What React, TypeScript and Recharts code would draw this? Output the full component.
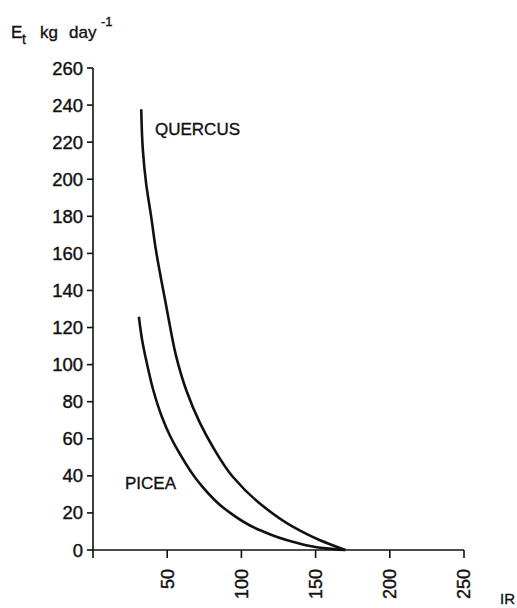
import React from "react"
import { LineChart, Line, XAxis, YAxis } from "recharts"

// transpiration vs. irradiance for the two species
const quercusIR = [32.5, 33.6, 35.8, 39.2, 42.4, 45.6, 48.6, 51.5, 56.1, 62.8, 71.8, 80.7, 94.2, 112.2, 134.6, 152.6, 170]
const quercusEt = [237.7, 215.7, 197.8, 179.8, 161.8, 147.4, 134.8, 122.3, 104.3, 86.3, 69, 55.7, 39.5, 25.2, 12.6, 5.4, 0]

const piceaIR = [30.9, 33.1, 36.3, 40.6, 46.4, 52.2, 58.3, 71.8, 89.8, 112.2, 134.6, 157, 170]
const piceaEt = [125.8, 113.3, 100.7, 86.3, 71.9, 61.1, 52.2, 36, 21.6, 10.8, 4.5, 0.9, 0]

const xTicks = [0, 50, 100, 150, 200, 250]
const yTicks = [0, 20, 40, 60, 80, 100, 120, 140, 160, 180, 200, 220, 240, 260]

const quercus = quercusIR.map((ir, i) => ({ ir, et: quercusEt[i] }))
const picea = piceaIR.map((ir, i) => ({ ir, et: piceaEt[i] }))

const FONT = "'Liberation Sans', Arial, sans-serif"
const INK = "#111"

function RotatedTick(props: any) {
  const { x, y, payload } = props
  if (payload.value === 0) return null
  return (
    <g transform={`translate(${x},${y})`}>
      <text
        transform="rotate(-90)"
        x={-9}
        dy="0.36em"
        textAnchor="end"
        fill={INK}
        stroke={INK}
        strokeWidth={0.4}
        fontSize={18}
        fontFamily={FONT}
      >
        {payload.value}
      </text>
    </g>
  )
}

const overlayText: React.CSSProperties = {
  position: "absolute",
  fontFamily: FONT,
  fontSize: 17,
  color: INK,
  whiteSpace: "pre",
  lineHeight: 1,
  WebkitTextStroke: "0.35px #111",
}

export default function App() {
  return (
    <div style={{ position: "absolute", left: 0, top: 0, width: 517, height: 608, background: "#fff", overflow: "hidden" }}>
      <LineChart
        width={517}
        height={608}
        margin={{ top: 68, right: 53, bottom: 0, left: 0 }}
      >
        <XAxis
          type="number"
          dataKey="ir"
          domain={[0, 250]}
          ticks={xTicks}
          tickSize={8}
          tick={<RotatedTick />}
          stroke={INK}
          strokeWidth={1.6}
          height={58}
          allowDataOverflow
        />
        <YAxis
          type="number"
          dataKey="et"
          domain={[0, 260]}
          ticks={yTicks}
          tickSize={6}
          tickMargin={4}
          width={93}
          stroke={INK}
          strokeWidth={1.6}
          tick={{ fill: INK, stroke: INK, strokeWidth: 0.4, fontSize: 18.5, fontFamily: FONT }}
        />
        <Line
          data={quercus}
          dataKey="et"
          type="monotoneY"
          stroke={INK}
          strokeWidth={2.6}
          dot={false}
          isAnimationActive={false}
        />
        <Line
          data={picea}
          dataKey="et"
          type="monotoneY"
          stroke={INK}
          strokeWidth={2.6}
          dot={false}
          isAnimationActive={false}
        />
      </LineChart>

      <div style={{ ...overlayText, left: 11, top: 24 }}>E</div>
      <div style={{ ...overlayText, left: 22, top: 32, fontSize: 14 }}>t</div>
      <div style={{ ...overlayText, left: 40, top: 24 }}>kg</div>
      <div style={{ ...overlayText, left: 69, top: 24 }}>day</div>
      <div style={{ ...overlayText, left: 101, top: 15, fontSize: 13 }}>-1</div>
      <div style={{ ...overlayText, left: 155, top: 121 }}>QUERCUS</div>
      <div style={{ ...overlayText, left: 125, top: 475 }}>PICEA</div>
      <div style={{ ...overlayText, left: 500, top: 591, fontSize: 15 }}>IR</div>
    </div>
  )
}
